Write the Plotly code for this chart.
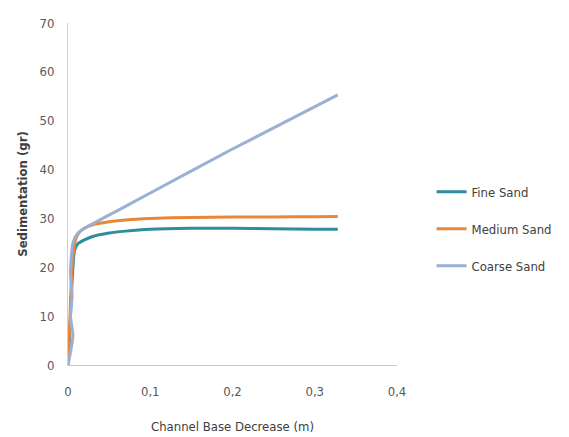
import plotly.graph_objects as go

fine_x = [0, 0.002, 0.004, 0.006, 0.008, 0.012, 0.02, 0.03, 0.05, 0.07, 0.1, 0.15, 0.2, 0.25, 0.3, 0.328]
fine_y = [0, 6, 14, 20, 23.5, 24.8, 25.6, 26.3, 27.0, 27.4, 27.8, 28.0, 28.0, 27.9, 27.8, 27.8]

medium_x = [0, 0.002, 0.004, 0.006, 0.009, 0.013, 0.02, 0.03, 0.05, 0.07, 0.1, 0.15, 0.2, 0.25, 0.3, 0.328]
medium_y = [0, 8, 17, 22, 25.5, 27, 28, 28.7, 29.3, 29.7, 30.0, 30.2, 30.3, 30.3, 30.35, 30.4]

coarse_x = [0, 0.006, 0.003, 0.005, 0.003, 0.006, 0.012, 0.02, 0.04, 0.1, 0.2, 0.328]
coarse_y = [0, 6, 10, 14, 19, 25, 27, 28, 29.8, 35.2, 44.2, 55.3]

names = ["Fine Sand", "Medium Sand", "Coarse Sand"]
colors = ["#2E8D9C", "#E8873A", "#9BB0D2"]
xs = [fine_x, medium_x, coarse_x]
ys = [fine_y, medium_y, coarse_y]

fig = go.Figure()
for i in range(3):
    fig.add_trace(go.Scatter(
        x=xs[i], y=ys[i], mode="lines", name=names[i],
        line=dict(color=colors[i], width=3, shape="spline", smoothing=0.6),
        legendgroup=names[i],
    ))

fig.update_layout(
    width=569, height=437,
    margin=dict(l=68, r=167, t=23, b=72),
    paper_bgcolor="white", plot_bgcolor="white",
    separators=",.",
    font=dict(family="DejaVu Sans Condensed", color="#595959", size=13),
    xaxis=dict(
        range=[0, 0.4], dtick=0.1, tick0=0,
        showgrid=False, zeroline=False, automargin=False,
        showline=True, linecolor="#C8C8C8", linewidth=1,
        ticks="outside", ticklen=14, tickcolor="rgba(0,0,0,0)",
        tickfont=dict(size=13, color="#595959"),
        title=dict(text="Channel Base Decrease (m)", standoff=24,
                   font=dict(size=13, color="#404040")),
    ),
    yaxis=dict(
        range=[0, 70], dtick=10, tick0=0,
        showgrid=False, zeroline=False, automargin=False,
        showline=True, linecolor="#D0D0D0", linewidth=1,
        ticks="outside", ticklen=10, tickcolor="rgba(0,0,0,0)",
        tickfont=dict(size=13, color="#595959"),
        title=dict(text="<b>Sedimentation (gr)</b>", standoff=8,
                   font=dict(size=13, color="#404040")),
    ),
    legend=dict(
        x=1.105, y=0.55, xanchor="left", yanchor="top",
        font=dict(size=13, color="#404040"),
        tracegroupgap=17, itemwidth=30,
        bgcolor="rgba(0,0,0,0)",
    ),
)

fig.write_html("out.html")
